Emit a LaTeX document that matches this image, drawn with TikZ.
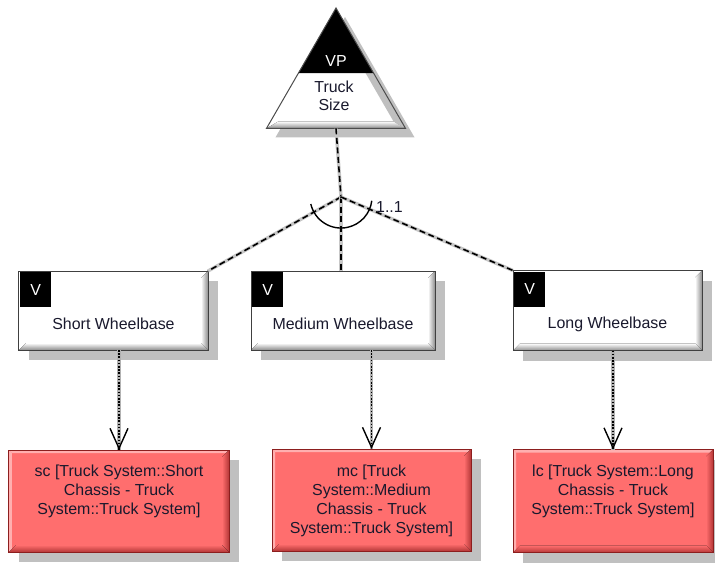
\documentclass[tikz,border=0pt]{standalone}
\usepackage{fontspec}
\setmainfont{Liberation Sans}
\usetikzlibrary{arrows.meta,calc,shapes.geometric,shadows}
\definecolor{redfill}{RGB}{255,110,110}
\definecolor{redborder}{RGB}{140,30,30}
\definecolor{reddark}{RGB}{180,55,55}
\definecolor{redlight}{RGB}{255,175,175}
\definecolor{shadowgray}{RGB}{192,192,192}
\definecolor{txt}{RGB}{25,25,45}
\newcommand\mybevel[5]{%
 \fill[left color=#2,right color=#3] (#1.north east) -- (#1.south east) -- ([xshift=-#4,yshift=#4]#1.south east) -- ([xshift=-#4,yshift=-#4]#1.north east) -- cycle;
 \fill[top color=#2,bottom color=#3] (#1.south west) -- (#1.south east) -- ([xshift=-#4,yshift=#4]#1.south east) -- ([xshift=#4,yshift=#4]#1.south west) -- cycle;
 \draw[#5, line width=1bp] (#1.north west) rectangle (#1.south east);
}
\newcommand\mylight[3]{%
 \fill[#2] (#1.north west) -- (#1.north east) -- ([xshift=-#3,yshift=-#3]#1.north east) -- ([xshift=#3,yshift=-#3]#1.north west) -- cycle;
 \fill[#2] (#1.north west) -- (#1.south west) -- ([xshift=#3,yshift=#3]#1.south west) -- ([xshift=#3,yshift=-#3]#1.north west) -- cycle;
}
\begin{document}
\begin{tikzpicture}[x=1bp,y=-1bp,
 featbox/.style={rectangle, fill=white, inner sep=0, outer sep=0, drop shadow={shadow xshift=10bp,shadow yshift=-10bp,fill=shadowgray,opacity=1}},
 implbox/.style={rectangle, fill=redfill, inner sep=0, outer sep=0, drop shadow={shadow xshift=10bp,shadow yshift=-10bp,fill=shadowgray,opacity=1}},
 lbl/.style={font=\fontsize{16}{19.3}\selectfont, text=txt, align=center, inner sep=0},
 badge/.style={fill=black, text=white, font=\fontsize{16}{19}\selectfont, minimum width=31bp, minimum height=35bp, inner sep=0, anchor=north west},
 grpline/.style={line width=1.6bp, dash pattern=on 6bp off 3.5bp, black, preaction={draw=black!22, line width=3.4bp, solid}},
 depline/.style={line width=1.6bp, dash pattern=on 1.6bp off 1.6bp, black, preaction={draw=black!30, line width=3.6bp, solid}},
 tip/.style={black, line width=1.4bp, solid, -{Straight Barb[length=20bp,width=18bp]}}
]
\useasboundingbox (0,0) rectangle (715,571);

% variation point triangle
\node[regular polygon, regular polygon sides=3, minimum size=160.6bp, inner sep=0, outer sep=0, fill=white,
  drop shadow={shadow xshift=9bp,shadow yshift=-9bp,fill=shadowgray,opacity=1}] (vp) at (336,88.3) {};
\fill[top color=white,bottom color=black!45] (vp.corner 2) -- (vp.corner 3) -- ([xshift=-12bp,yshift=7bp]vp.corner 3) -- ([xshift=12bp,yshift=7bp]vp.corner 2) -- cycle;
\fill[black!25] (vp.corner 1) -- (vp.corner 3) -- ([xshift=-12bp,yshift=7bp]vp.corner 3) -- ([yshift=-14bp]vp.corner 1) -- cycle;
\fill[black] (vp.corner 1) -- ($(vp.corner 1)!0.54!(vp.corner 2)$) -- ($(vp.corner 1)!0.54!(vp.corner 3)$) -- cycle;
\draw[black!70, line width=1bp] (vp.corner 1) -- (vp.corner 2) -- (vp.corner 3) -- cycle;
\node[lbl, text=white] (vpt) at (336,61) {VP};
\node[lbl, font=\fontsize{16}{18}\selectfont] (vpn) at (334,96) {Truck\\Size};

% variants
\node[featbox, minimum width=189bp, minimum height=79bp] (s) at (113.5,310.5) {};
\node[featbox, minimum width=184bp, minimum height=79bp] (m) at (343,310.5) {};
\node[featbox, minimum width=189bp, minimum height=80bp] (l) at (607.5,310.5) {};
\mybevel{s}{white}{black!45}{7bp}{black!75}
\mybevel{m}{white}{black!45}{7bp}{black!75}
\mybevel{l}{white}{black!45}{7bp}{black!75}
\node[badge] (sb) at ([xshift=1bp,yshift=-1bp]s.north west) {V};
\node[badge] (mb) at ([xshift=1bp,yshift=-1bp]m.north west) {V};
\node[badge] (lb) at ([xshift=1bp,yshift=-1bp]l.north west) {V};
\node[lbl] (st) at ([yshift=-13.5bp]s.center) {Short Wheelbase};
\node[lbl] (mt) at ([yshift=-13.5bp]m.center) {Medium Wheelbase};
\node[lbl] (lt) at ([yshift=-13.5bp]l.center) {Long Wheelbase};

% realizations
\node[implbox, minimum width=220bp, minimum height=102bp] (rs) at (119,501) {};
\node[implbox, minimum width=199bp, minimum height=102bp] (rm) at (371.5,500) {};
\node[implbox, minimum width=200bp, minimum height=103bp] (rl) at (613,501) {};
\mylight{rs}{redlight}{3bp}
\mylight{rm}{redlight}{3bp}
\mylight{rl}{redlight}{3bp}
\mybevel{rs}{redfill}{reddark}{7bp}{redborder}
\mybevel{rm}{redfill}{reddark}{7bp}{redborder}
\mybevel{rl}{redfill}{reddark}{7bp}{redborder}
\node[lbl] (rst) at ([yshift=9.5bp]rs.center) {sc [Truck System::Short\\Chassis - Truck\\System::Truck System]};
\node[lbl] (rmt) at ([yshift=-1bp]rm.center) {mc [Truck\\System::Medium\\Chassis - Truck\\System::Truck System]};
\node[lbl] (rlt) at ([yshift=9.5bp]rl.center) {lc [Truck System::Long\\Chassis - Truck\\System::Truck System]};

% group connectors
\coordinate (J) at (341,197);
\draw[grpline] (vp.side 2) -- (J);
\draw[grpline] (J) -- (s.north east);
\draw[grpline] (J) -- (J |- m.north);
\draw[grpline] (J) -- (l.north west);
\draw[black, line width=1.4bp] ([xshift=-30.2bp,yshift=-7bp]J) arc[start angle=-167, end angle=-7, radius=31bp];
\node[lbl, anchor=west] (card) at (376,207) {1..1};

% dependencies
\draw[depline] (rs.north |- s.south) -- (rs.north);
\draw[tip] ([yshift=1bp]rs.north) -- (rs.north);
\draw[depline] (rm.north |- m.south) -- (rm.north);
\draw[tip] ([yshift=1bp]rm.north) -- (rm.north);
\draw[depline] (rl.north |- l.south) -- (rl.north);
\draw[tip] ([yshift=1bp]rl.north) -- (rl.north);
\end{tikzpicture}
\end{document}
